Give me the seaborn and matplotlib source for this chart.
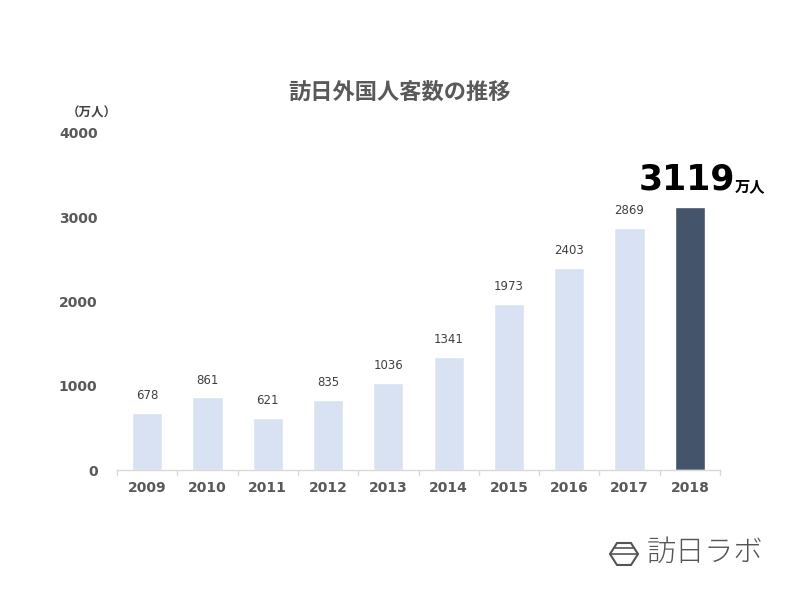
import matplotlib
matplotlib.use("Agg")
import matplotlib.pyplot as plt
import seaborn as sns
import pandas as pd
from matplotlib.patches import Polygon

years = ["2009", "2010", "2011", "2012", "2013", "2014", "2015", "2016", "2017", "2018"]
visitors = [678, 861, 621, 835, 1036, 1341, 1973, 2403, 2869, 3119]
title = "訪日外国人客数の推移"
unit = "（万人）"

sns.set_theme(style="white")
plt.rcParams['font.family'] = ['DejaVu Sans', 'Noto Sans CJK JP']

df = pd.DataFrame({"year": years, "visitors": visitors})
light = "#D9E2F3"
dark = "#44546A"
palette = [light] * (len(years) - 1) + [dark]

W, H = 800, 600
def fx(px):
    return px / W
def fy(py):
    return 1 - py / H

fig = plt.figure(figsize=(8, 6), dpi=100)
ax = fig.add_axes([fx(117), fy(470), (720 - 117) / W, (470 - 133) / H])
sns.barplot(data=df, x="year", y="visitors", hue="year", palette=palette,
            legend=False, width=0.5, ax=ax, saturation=1)

ax.set_ylim(0, 4000)
ax.set_xlim(-0.5, len(years) - 0.5)
ax.set_yticks([0, 1000, 2000, 3000, 4000])
ax.set_xlabel("")
ax.set_ylabel("")
for s in ["top", "right", "left"]:
    ax.spines[s].set_visible(False)
ax.spines["bottom"].set_color("#D9D9D9")
ax.spines["bottom"].set_linewidth(1)
ax.tick_params(axis="y", length=0, pad=14, labelsize=10, labelcolor="#595959")
ax.tick_params(axis="x", length=0, pad=8, labelsize=10, labelcolor="#595959")
for lbl in ax.get_xticklabels() + ax.get_yticklabels():
    lbl.set_fontweight("bold")
# boundary tick marks
for i in range(len(years) + 1):
    ax.plot([i - 0.5, i - 0.5], [0, -60], color="#D9D9D9", lw=1, clip_on=False)

for i, v in enumerate(visitors[:-1]):
    ax.text(i, v + 130, str(v), ha="center", va="bottom", fontsize=8.5, color="#404040")

# highlighted last value
fig.text(fx(639), fy(180), str(visitors[-1]), fontsize=25, fontweight="bold",
         color="black", ha="left", va="center")
fig.text(fx(735), fy(186), "万人", fontsize=11, fontweight="bold",
         color="black", ha="left", va="center", family=['Noto Sans CJK JP'])

fig.text(fx(400), fy(92), title, fontsize=16, fontweight="bold", color="#595959",
         ha="center", va="center", family=['Noto Sans CJK JP'])
fig.text(fx(67), fy(113), unit, fontsize=9, fontweight="bold", color="#404040",
         ha="left", va="center", family=['Noto Sans CJK JP'])

# logo
hex_px = [(610, 554), (617, 543), (631, 543), (638, 554), (631, 565), (617, 565)]
hexagon = Polygon([(fx(x), fy(y)) for x, y in hex_px], closed=True,
                  transform=fig.transFigure, fill=False, edgecolor="#555555", lw=1.5)
fig.patches.append(hexagon)
fig.add_artist(plt.Line2D([fx(614), fx(634)], [fy(548), fy(548)],
                          transform=fig.transFigure, color="#555555", lw=1.2))
fig.add_artist(plt.Line2D([fx(610), fx(638)], [fy(554), fy(554)],
                          transform=fig.transFigure, color="#555555", lw=1.2))
fig.text(fx(647), fy(553), "訪日ラボ", fontsize=21, fontweight="light", color="#555555",
         ha="left", va="center", family=['Noto Sans CJK JP'])

fig.savefig("out.png", dpi=100, facecolor="white")
